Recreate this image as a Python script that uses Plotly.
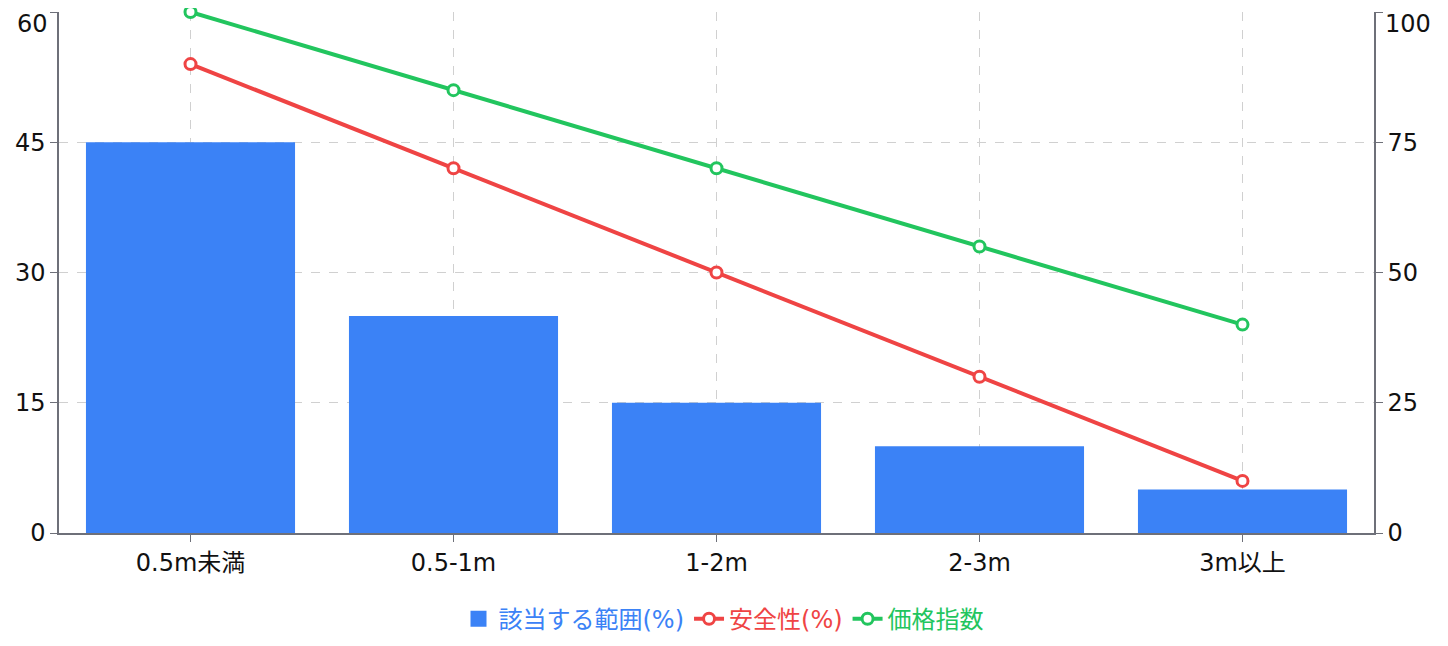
import plotly.graph_objects as go

# Datos
categorias = ["0.5m未満", "0.5-1m", "1-2m", "2-3m", "3m以上"]
rango_pct = [45, 25, 15, 10, 5]
seguridad_pct = [90, 70, 50, 30, 10]
indice_precio = [100, 85, 70, 55, 40]

ticks_izq = [0, 15, 30, 45, 60]
ticks_der = [0, 25, 50, 75, 100]

azul = "#3b82f6"
rojo = "#ef4444"
verde = "#22c55e"

fig = go.Figure()

fig.add_trace(go.Bar(
    x=categorias,
    y=rango_pct,
    name="該当する範囲(%)",
    marker=dict(color=azul, line=dict(width=0)),
    showlegend=False,
))

# entrada de leyenda con un cuadrado más grande para las barras
fig.add_trace(go.Scatter(
    x=[None],
    y=[None],
    mode="markers",
    name=f"<span style='color:{azul}'>該当する範囲(%)</span>",
    marker=dict(symbol="square", size=16, color=azul),
    hoverinfo="skip",
))

fig.add_trace(go.Scatter(
    x=categorias,
    y=seguridad_pct,
    yaxis="y2",
    mode="lines+markers",
    name=f"<span style='color:{rojo}'>安全性(%)</span>",
    line=dict(color=rojo, width=4),
    marker=dict(size=11, color="white", line=dict(color=rojo, width=3)),
    cliponaxis=False,
))

fig.add_trace(go.Scatter(
    x=categorias,
    y=indice_precio,
    yaxis="y2",
    mode="lines+markers",
    name=f"<span style='color:{verde}'>価格指数</span>",
    line=dict(color=verde, width=4),
    marker=dict(size=11, color="white", line=dict(color=verde, width=3)),
    cliponaxis=False,
))

# estilo común de los ejes
eje = dict(
    showline=True, linecolor="#6e7079", linewidth=1.5,
    ticks="outside", ticklen=7, tickcolor="#6e7079",
    tickfont=dict(size=24, color="#111"),
    automargin=False,
    ticklabeloverflow="allow",
)

# la etiqueta superior de cada eje va un poco más abajo, como en el original
texto_izq = [str(v) for v in ticks_izq[:-1]] + [""]
texto_der = [str(v) for v in ticks_der[:-1]] + [""]

fig.add_annotation(
    x=0, xref="paper", xanchor="right", xshift=-9,
    y=ticks_izq[-1], yref="y", yanchor="middle", yshift=-12,
    text=str(ticks_izq[-1]), showarrow=False, font=dict(size=24, color="#111"),
)
fig.add_annotation(
    x=1, xref="paper", xanchor="left", xshift=9,
    y=ticks_der[-1], yref="y2", yanchor="middle", yshift=-12,
    text=str(ticks_der[-1]), showarrow=False, font=dict(size=24, color="#111"),
)

# el body de la página añade 8px de margen, así que lo descontamos
fig.update_layout(
    width=1432,
    height=630,
    margin=dict(l=51, r=66, t=4, b=105),
    plot_bgcolor="white",
    paper_bgcolor="white",
    font=dict(family="DejaVu Sans, Noto Sans CJK JP", size=24, color="#111"),
    bargap=0.205,
    showlegend=True,
    legend=dict(
        orientation="h",
        x=0.5, xanchor="center",
        xref="container", yref="container",
        y=0.03, yanchor="middle",
        font=dict(size=24, family="DejaVu Sans, Noto Sans CJK JP"),
        itemwidth=30,
    ),
    xaxis=dict(
        **eje,
        showgrid=True, gridcolor="#d0d0d0", griddash="dash", gridwidth=1,
    ),
    yaxis=dict(
        **eje,
        range=[0, 60], tickvals=ticks_izq, ticktext=texto_izq,
        showgrid=True, gridcolor="#d0d0d0", griddash="dash", gridwidth=1,
        zeroline=False,
    ),
    yaxis2=dict(
        **eje,
        range=[0, 100], tickvals=ticks_der, ticktext=texto_der,
        overlaying="y", side="right",
        showgrid=False, zeroline=False,
    ),
)

fig.write_html("out.html")
